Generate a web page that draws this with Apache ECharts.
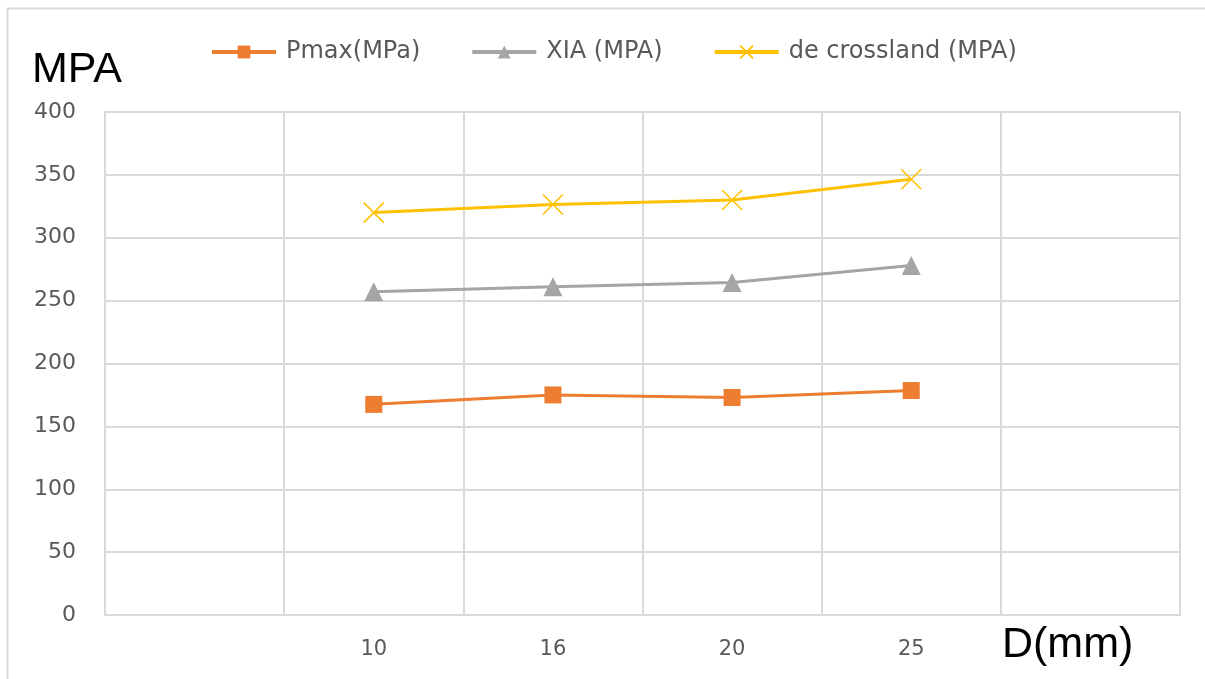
<!DOCTYPE html>
<html>
<head>
<meta charset="utf-8">
<script src="https://cdn.jsdelivr.net/npm/echarts@6/dist/echarts.min.js"></script>
<style>
  html, body { margin: 0; padding: 0; background: #fff; }
  #chart { width: 1205px; height: 679px; }
</style>
</head>
<body>
<div id="chart"></div>
<script>
// categories (blank bands at both ends, like the original sheet)
var categories = ['', '10', '16', '20', '25', ''];
var pmax = [null, 167.5, 175, 173, 178.5, null];
var xia = [null, 257, 261, 264.5, 278, null];
var crossland = [null, 320, 326.5, 330, 346.5, null];
var seriesNames = ['Pmax(MPa)', 'XIA (MPA)', 'de crossland (MPA)'];

var labelColor = '#595959';
var gridColor = '#D9D9D9';

var chart = echarts.init(document.getElementById('chart'));
chart.setOption({
  animation: false,
  textStyle: { fontFamily: 'DejaVu Sans' },
  // outer frame of the chart area (top and left edges only)
  graphic: [{
    type: 'polyline',
    shape: { points: [[1260, 8.5], [7.5, 8.5], [7.5, 700]] },
    style: { fill: 'none', stroke: gridColor, lineWidth: 2 }
  }],
  title: [
    { text: 'MPA', left: 27, top: 44,
      textStyle: { fontSize: 43, fontWeight: 'normal', color: '#000', fontFamily: 'Liberation Sans' } },
    { text: 'D(mm)', left: 997, top: 619,
      textStyle: { fontSize: 43, fontWeight: 'normal', color: '#000', fontFamily: 'Liberation Sans' } }
  ],
  legend: {
    left: 205,
    top: 35,
    itemWidth: 64,
    itemHeight: 16,
    itemGap: 50,
    lineStyle: { width: 4 },
    textStyle: { fontSize: 24, color: labelColor, padding: [0, 0, 0, 5] },
    data: seriesNames
  },
  grid: { left: 105, right: 25, top: 112, bottom: 64 },
  xAxis: {
    type: 'category',
    data: categories,
    boundaryGap: true,
    axisLine: { show: true, lineStyle: { color: gridColor, width: 2 } },
    axisTick: { show: false },
    axisLabel: { fontSize: 21, color: labelColor, margin: 24 },
    splitLine: { show: true, interval: 0, lineStyle: { color: gridColor, width: 2 } }
  },
  yAxis: {
    type: 'value',
    min: 0,
    max: 400,
    interval: 50,
    axisLine: { show: true, lineStyle: { color: gridColor, width: 2 } },
    axisTick: { show: false },
    axisLabel: { fontSize: 22, color: labelColor, margin: 29 },
    splitLine: { lineStyle: { color: gridColor, width: 2 } }
  },
  series: [{
    name: seriesNames[0],
    type: 'line',
    data: pmax,
    symbol: 'rect',
    symbolSize: 17,
    lineStyle: { color: '#ED7D31', width: 3 },
    itemStyle: { color: '#ED7D31' }
  }, {
    name: seriesNames[1],
    type: 'line',
    data: xia,
    symbol: 'triangle',
    symbolSize: 19,
    lineStyle: { color: '#A5A5A5', width: 3 },
    itemStyle: { color: '#A5A5A5' }
  }, {
    name: seriesNames[2],
    type: 'line',
    data: crossland,
    symbol: 'path://M0,0L10,10M10,0L0,10',
    symbolSize: 20,
    lineStyle: { color: '#FFC000', width: 3 },
    itemStyle: { color: '#FFC000', borderColor: '#FFC000', borderWidth: 1.5 }
  }]
});
</script>
</body>
</html>
